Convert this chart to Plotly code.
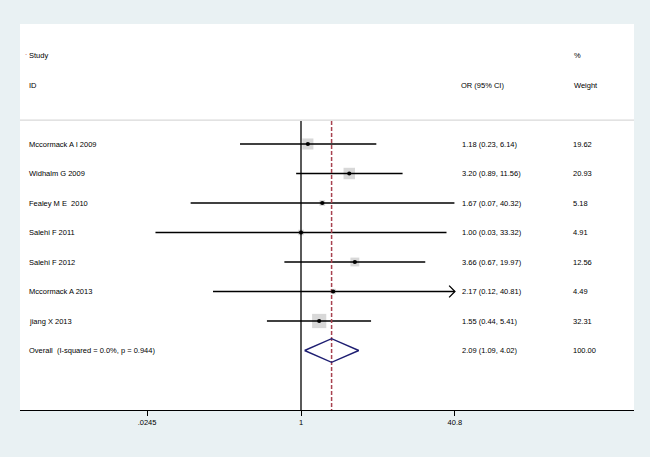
import plotly.graph_objects as go
import numpy as np

# ---------------- data ----------------
studies = ["Mccormack A I 2009", "Widhalm G 2009", "Fealey M E\u00a0 2010", "Salehi F 2011",
           "Salehi F 2012", "Mccormack A 2013", "jiang X 2013"]
or_vals = [1.18, 3.20, 1.67, 1.00, 3.66, 2.17, 1.55]
ci_low = [0.23, 0.89, 0.07, 0.03, 0.67, 0.12, 0.44]
ci_high = [6.14, 11.56, 40.32, 33.32, 19.97, 40.81, 5.41]
weights = [19.62, 20.93, 5.18, 4.91, 12.56, 4.49, 32.31]
overall_label = "Overall\u00a0 (I-squared = 0.0%, p = 0.944)"
overall_or = 2.09
overall_low = 1.09
overall_high = 4.02
overall_weight = 100.00
tick_vals = [0.0245, 1, 40.8]
tick_text = [".0245", "1", "40.8"]

# ---------------- layout constants ----------------
W, H = 650, 457
ML, MR, MT, MB = 20, 16, 24, 47
PW = W - ML - MR
FONT = "Liberation Sans, Arial, sans-serif"
FS = 7.5
x_left = (ML - 301) / 95.56
x_right = (W - MR - 301) / 95.56
y_top = 1 + (MT - 144) / 29.5
y_bot = 1 + (H - MB - 144) / 29.5
axis_max = tick_vals[-1]

def px(xp):
    return (xp - ML) / PW

rows = list(range(1, len(studies) + 1))
row_overall = len(studies) + 1

fig = go.Figure()

# weight boxes
fig.add_trace(go.Scatter(
    x=or_vals, y=rows, mode="markers",
    marker=dict(symbol="square", size=[2.5 * np.sqrt(w) for w in weights],
                color="#C8C8C8", line=dict(width=0)),
    hoverinfo="skip", showlegend=False))

# CI lines
cx, cy = [], []
for lo, hi, r in zip(ci_low, ci_high, rows):
    cx += [lo, min(hi, axis_max), None]
    cy += [r, r, None]
fig.add_trace(go.Scatter(x=cx, y=cy, mode="lines", line=dict(color="black", width=1.6),
                         hoverinfo="skip", showlegend=False))

# arrows for truncated CIs
ax, ay = [], []
for hi, r in zip(ci_high, rows):
    if hi > axis_max:
        ax += [axis_max / 1.15, axis_max, axis_max / 1.15, None]
        ay += [r - 0.2, r, r + 0.2, None]
if ax:
    fig.add_trace(go.Scatter(x=ax, y=ay, mode="lines", line=dict(color="black", width=1.3),
                             hoverinfo="skip", showlegend=False))

# null line at 1
fig.add_trace(go.Scatter(x=[1, 1], y=[0.22, y_bot], mode="lines",
                         line=dict(color="black", width=1.3), hoverinfo="skip", showlegend=False))
# overall dashed line
fig.add_trace(go.Scatter(x=[overall_or, overall_or], y=[0.22, y_bot], mode="lines",
                         line=dict(color="#A8424F", width=1.5, dash="4px,2px"),
                         hoverinfo="skip", showlegend=False))

# point estimates
fig.add_trace(go.Scatter(x=or_vals, y=rows, mode="markers",
                         marker=dict(symbol="circle", size=4.2, color="black"),
                         hoverinfo="skip", showlegend=False))

# diamond
fig.add_trace(go.Scatter(
    x=[overall_low, overall_or, overall_high, overall_or, overall_low],
    y=[row_overall, row_overall - 0.4, row_overall, row_overall + 0.4, row_overall],
    mode="lines", line=dict(color="#1E1E72", width=1.4),
    hoverinfo="skip", showlegend=False))

# separator line
fig.add_shape(type="line", xref="paper", yref="y", x0=0, x1=1, y0=0.19, y1=0.19,
              line=dict(color="#D9D9D9", width=1.2))

ann = []
def txt(xp, y, s, color="black"):
    ann.append(dict(x=px(xp), xref="paper", y=y, yref="y", text=s, showarrow=False,
                    xanchor="left", yanchor="middle",
                    font=dict(family=FONT, size=FS, color=color)))

txt(27, -2, "Study")
txt(27, -1, "ID")
txt(459, -1, "OR (95% CI)")
txt(572, -2, "%")
txt(572, -1, "Weight")
for s, o, lo, hi, w, r in zip(studies, or_vals, ci_low, ci_high, weights, rows):
    txt(27, r, s)
    txt(460, r, f"{o:.2f} ({lo:.2f}, {hi:.2f})")
    txt(571, r, f"{w:.2f}")
txt(27, row_overall, overall_label)
txt(460, row_overall, f"{overall_or:.2f} ({overall_low:.2f}, {overall_high:.2f})")
txt(571, row_overall, f"{overall_weight:.2f}")
# tiny title mark
ann.append(dict(x=px(23), xref="paper", y=(H - 34) / H, yref="paper", yanchor="middle",
                xanchor="left", text=".", showarrow=False,
                font=dict(family=FONT, size=8, color="#C0504D")))

fig.update_layout(
    width=W, height=H,
    margin=dict(l=ML, r=MR, t=MT, b=MB, pad=0),
    paper_bgcolor="#E9F1F3", plot_bgcolor="white",
    annotations=ann,
    xaxis=dict(type="log", range=[x_left, x_right], tickvals=tick_vals, ticktext=tick_text,
               showgrid=False, zeroline=False, showline=True, linecolor="black", linewidth=1.3,
               ticks="outside", ticklen=5, tickwidth=1.2, tickcolor="black",
               tickfont=dict(family=FONT, size=FS, color="black"), fixedrange=True),
    yaxis=dict(range=[y_bot, y_top], showgrid=False, zeroline=False, showticklabels=False,
               showline=False, ticks="", fixedrange=True),
    font=dict(family=FONT, color="black"),
)

fig.write_html("out.html", config={"displayModeBar": False},
               post_script="document.body.style.margin='0';document.body.style.overflow='hidden';")
